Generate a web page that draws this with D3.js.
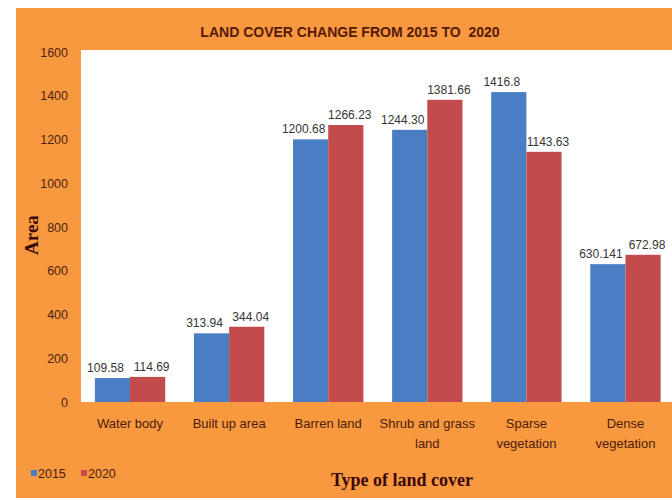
<!DOCTYPE html>
<html>
<head>
<meta charset="utf-8">
<script src="https://cdn.jsdelivr.net/npm/d3@7"></script>
<style>
  html, body { margin: 0; padding: 0; background: #ffffff; }
  svg { display: block; }
</style>
</head>
<body>
<svg id="chart" width="672" height="500"></svg>
<script>
// ---- data ----
const categories = ["Water body", "Built up area", "Barren land", "Shrub and grass land", "Sparse vegetation", "Dense vegetation"];
const categoryLines = [["Water body"], ["Built up area"], ["Barren land"], ["Shrub and grass", "land"], ["Sparse", "vegetation"], ["Dense", "vegetation"]];
const seriesNames = ["2015", "2020"];
const values2015 = [109.58, 313.94, 1200.68, 1244.30, 1416.8, 630.141];
const values2020 = [114.69, 344.04, 1266.23, 1381.66, 1143.63, 672.98];
const labels2015 = ["109.58", "313.94", "1200.68", "1244.30", "1416.8", "630.141"];
const labels2020 = ["114.69", "344.04", "1266.23", "1381.66", "1143.63", "672.98"];
const yTicks = [0, 200, 400, 600, 800, 1000, 1200, 1400, 1600];
const titleText = "LAND COVER CHANGE FROM 2015 TO  2020";
const xTitle = "Type of land cover";
const yTitle = "Area";

// ---- styling ----
const colors = { "2015": "#4a7ec4", "2020": "#c44b4b" };
const labelShift = { "2015": -7, "2020": 4 };
const orange = "#f8983f";
const sansFont = "'Liberation Sans Narrow', 'Arial Narrow', 'Liberation Sans', sans-serif";
const serifFont = "'Liberation Serif', 'Times New Roman', serif";

const svg = d3.select("#chart");

// background pieces
svg.append("rect").attr("x", 0).attr("y", 0).attr("width", 672).attr("height", 500).attr("fill", "#ffffff");
svg.append("rect").attr("x", 16).attr("y", 8).attr("width", 670).attr("height", 490).attr("fill", orange);

const plot = { left: 81, top: 50, right: 690, bottom: 402 };
svg.append("rect")
  .attr("x", plot.left).attr("y", plot.top)
  .attr("width", plot.right - plot.left).attr("height", plot.bottom - plot.top)
  .attr("fill", "#ffffff");

const y = d3.scaleLinear().domain([0, 1600]).range([402, 52]);
const x = d3.scaleBand().domain(categories).range([80.5, 675]).paddingInner(0.29).paddingOuter(0.145);
const xs = d3.scaleBand().domain(seriesNames).range([0, x.bandwidth()]).padding(0);

const rows = categories.map((c, i) => ({
  cat: c,
  vals: [
    { s: "2015", v: values2015[i], label: labels2015[i] },
    { s: "2020", v: values2020[i], label: labels2020[i] }
  ]
}));

const groups = svg.append("g").selectAll("g").data(rows).join("g")
  .attr("transform", d => `translate(${x(d.cat)},0)`);

groups.selectAll("rect").data(d => d.vals).join("rect")
  .attr("x", d => xs(d.s))
  .attr("y", d => y(d.v))
  .attr("width", xs.bandwidth())
  .attr("height", d => y(0) - y(d.v))
  .attr("fill", d => colors[d.s]);

groups.selectAll("text.dl").data(d => d.vals).join("text")
  .attr("class", "dl")
  .attr("x", d => xs(d.s) + xs.bandwidth() / 2 + labelShift[d.s])
  .attr("y", d => y(d.v) - 6)
  .attr("text-anchor", "middle")
  .attr("font-family", sansFont)
  .attr("font-size", 12)
  .attr("fill", "#353535")
  .text(d => d.label);

// y axis
const yAxis = d3.axisLeft(y).tickValues(yTicks).tickSize(0).tickPadding(0).tickFormat(d3.format("d"));
const yg = svg.append("g").attr("transform", "translate(68,0)").call(yAxis);
yg.select(".domain").remove();
yg.selectAll("text")
  .attr("font-family", sansFont)
  .attr("font-size", 12.5)
  .attr("fill", "#4e2410");

// x axis labels
const xg = svg.append("g");
categories.forEach((c, i) => {
  const t = xg.append("text")
    .attr("x", x(c) + x.bandwidth() / 2)
    .attr("y", 428)
    .attr("text-anchor", "middle")
    .attr("font-family", sansFont)
    .attr("font-size", 13)
    .attr("fill", "#4e1c0c");
  categoryLines[i].forEach((line, j) => {
    t.append("tspan").attr("x", x(c) + x.bandwidth() / 2).attr("dy", j === 0 ? 0 : 20).text(line);
  });
});

// title
svg.append("text")
  .attr("x", 350).attr("y", 37)
  .attr("text-anchor", "middle")
  .attr("font-family", sansFont)
  .attr("font-weight", "bold")
  .attr("font-size", 14)
  .attr("fill", "#561a0a")
  .style("white-space", "pre")
  .text(titleText);

// axis titles
svg.append("text")
  .attr("x", 402).attr("y", 486)
  .attr("text-anchor", "middle")
  .attr("font-family", serifFont)
  .attr("font-weight", "bold")
  .attr("font-size", 18)
  .attr("fill", "#3a0808")
  .text(xTitle);

svg.append("text")
  .attr("transform", "translate(38,235) rotate(-90)")
  .attr("text-anchor", "middle")
  .attr("font-family", serifFont)
  .attr("font-weight", "bold")
  .attr("font-size", 19)
  .attr("fill", "#3a0808")
  .text(yTitle);

// legend
const legend = svg.append("g").attr("transform", "translate(31,473)");
seriesNames.forEach((s, i) => {
  const lg = legend.append("g").attr("transform", `translate(${i * 50},0)`);
  lg.append("rect").attr("x", 0).attr("y", -3).attr("width", 6).attr("height", 6).attr("fill", colors[s]);
  lg.append("text").attr("x", 7).attr("y", 4.5)
    .attr("font-family", sansFont).attr("font-size", 12.5).attr("fill", "#4e1c0c").text(s);
});
</script>
</body>
</html>
